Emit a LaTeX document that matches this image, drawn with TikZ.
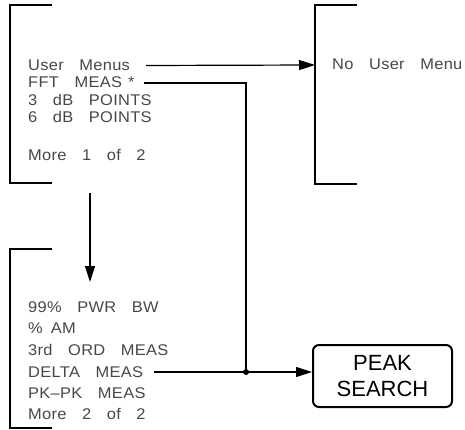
\documentclass[tikz,border=0pt]{standalone}
\usepackage{fontspec}
\setmainfont{Liberation Sans}
\newfontfamily\keyfont[FakeStretch=1.06,LetterSpace=2,WordSpace=3.2]{Liberation Sans}
\usetikzlibrary{arrows.meta,positioning}
\begin{document}
\begin{tikzpicture}[x=1pt,y=-1pt,
    bracket/.style={line width=2pt},
    link/.style={line width=1.2pt,-{Triangle[length=16pt,width=10pt]}},
    softkey/.style={anchor=base west,inner sep=0pt,text height=10pt,text depth=0pt,
        text=black!72,font=\keyfont\fontsize{15.5}{15.5}\selectfont},
    hardkey/.style={draw,line width=2pt,rounded corners=6pt,minimum width=139pt,
        minimum height=62pt,align=center,inner sep=0pt,font=\fontsize{22}{26}\selectfont}]
\useasboundingbox (0,0) rectangle (465,430);
% erstes Menue
\draw [bracket] (52,5) -- (10,5) -- (10,183) -- (52,183);
\node [softkey] (usr) at (28,70.5) {User Menus};
\node [softkey] (fft) at (28,88) {FFT MEAS\hspace{6pt}*};
\node [softkey] (tdb) at (28,105.5) {3 dB POINTS};
\node [softkey] (sdb) at (28,123) {6 dB POINTS};
\node [softkey] (mr1) at (28,160.5) {More 1 of 2};

% Benutzermenue
\draw [bracket] (357,5) -- (315,5) -- (315,184) -- (357,184);
\coordinate (nu) at (315,65);
\node [softkey] (nou) at (332,69.5) {No User Menu};

% zweites Menue
\draw [bracket] (52,249) -- (10,249) -- (10,428) -- (52,428);
\node [softkey] (pwr) at (28,312.5) {99\% PWR BW};
\node [softkey] (am)  at (28,333.5) {\%\hspace{8pt}AM};
\node [softkey] (ord) at (28,355.5) {3rd ORD MEAS};
\node [softkey] (dlt) at (28,377) {DELTA MEAS};
\node [softkey] (pkp) at (28,398.5) {PK–PK MEAS};
\node [softkey] (mr2) at (28,419) {More 2 of 2};

% Taste
\node [hardkey] (pks) at (382.5,376) {PEAK\\SEARCH};

% Verbindungen
\coordinate (m1) at (90,193);
\coordinate (m2) at (90,282);
\coordinate (dot) at (246,372);
\draw [link] (m1) -- (m2);
\draw [link] ([xshift=16pt]usr.east) -- (nu);
\draw [line width=1.2pt] ([xshift=9pt]fft.east) -| (dot);
\draw [link] ([xshift=11pt]dlt.east) -- (dot) -- (dot -| pks.west);
\fill (dot) circle (3pt);
\end{tikzpicture}
\end{document}
